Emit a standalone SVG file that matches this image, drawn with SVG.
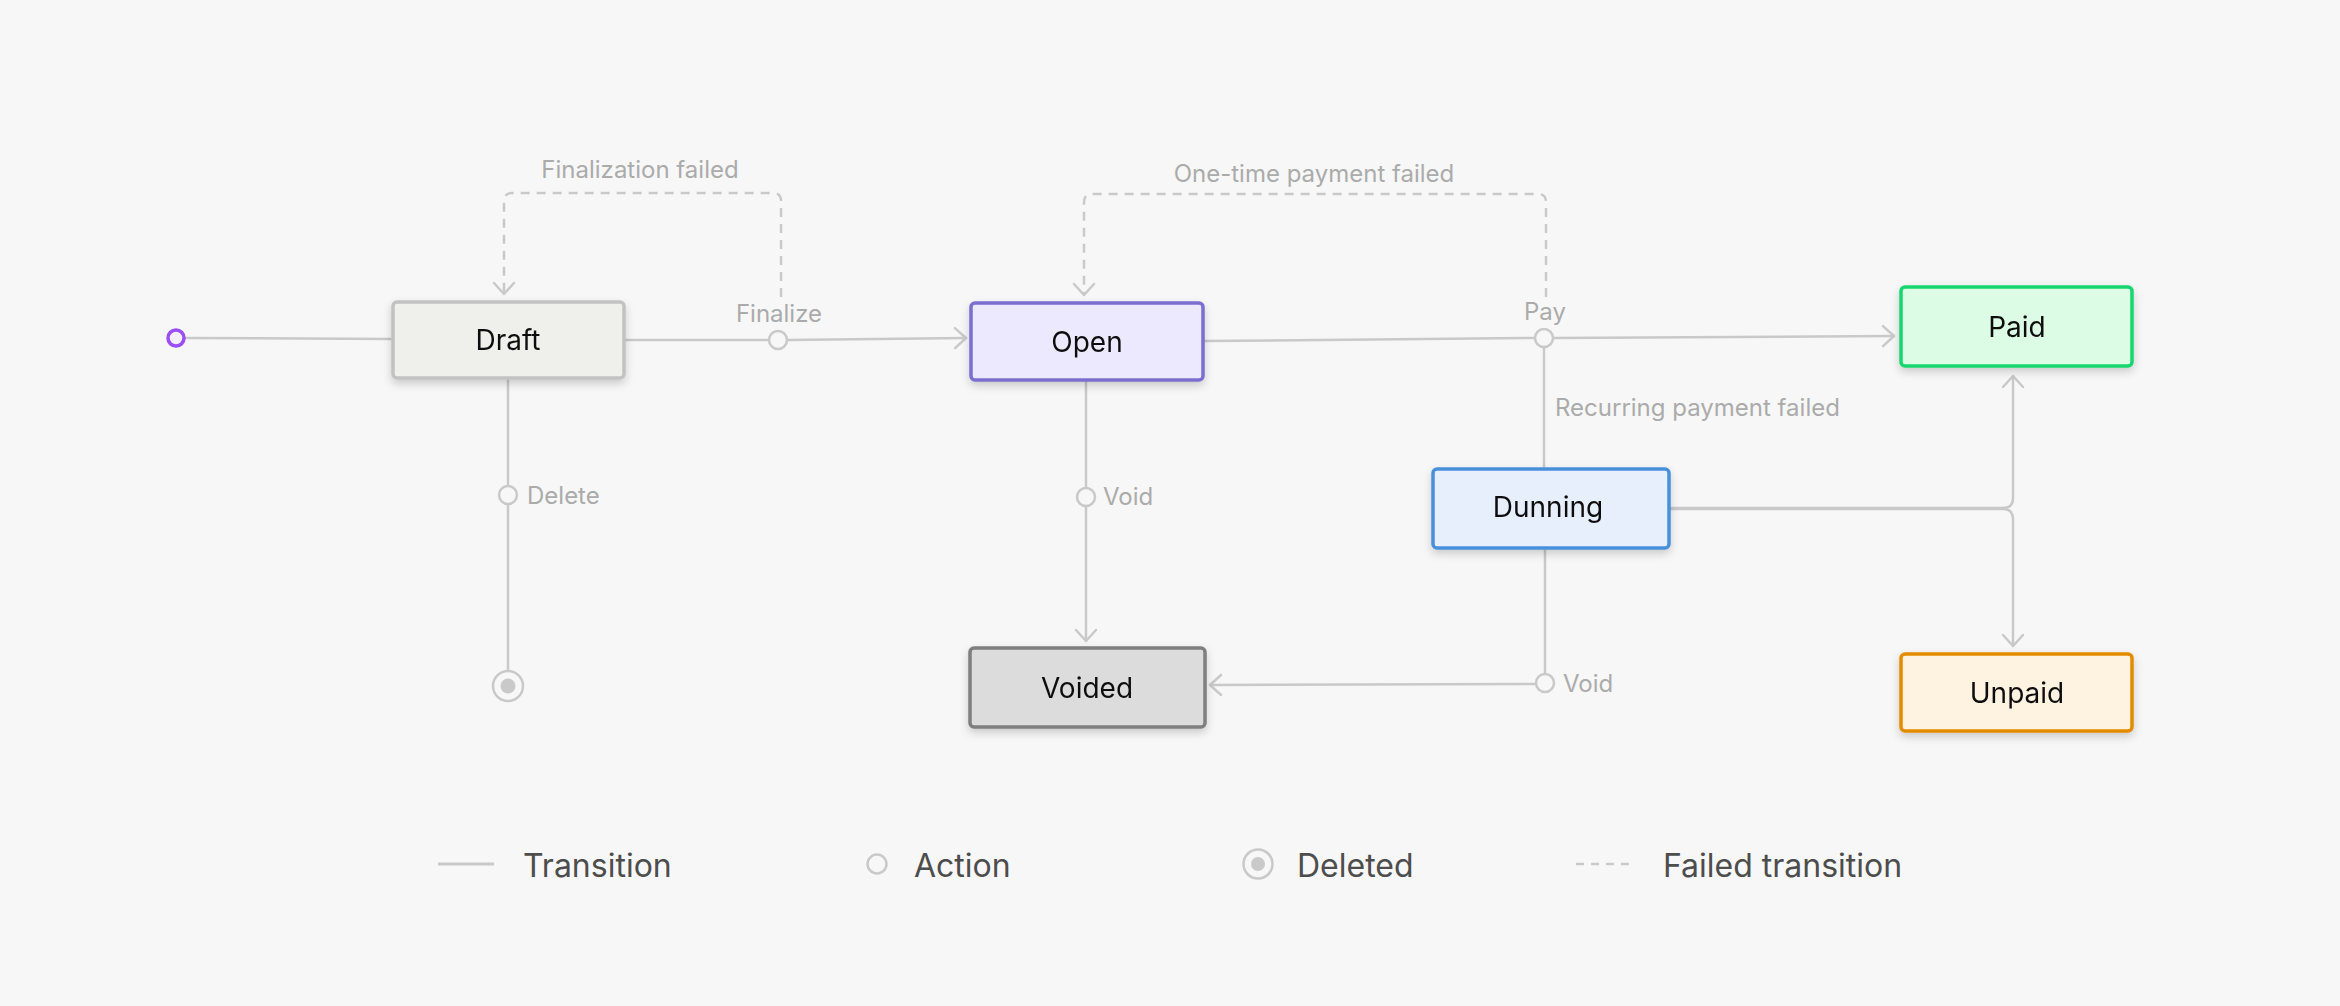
<svg xmlns="http://www.w3.org/2000/svg" width="2340" height="1006" viewBox="0 0 2340 1006">
<style>
.conn{fill:none;stroke:#c9c9c9;stroke-width:2.5;stroke-linecap:round;stroke-linejoin:round}
.dash{stroke-dasharray:9 7;stroke-linecap:butt}
.act{fill:#f7f7f7;stroke:#c9c9c9;stroke-width:2.5}
.lbl{font-family:Inter,"Liberation Sans",sans-serif;font-size:24px;fill:#ababab}
.ntext{font-family:Inter,"Liberation Sans",sans-serif;font-size:28px;fill:#111;text-anchor:middle}
.leg{font-family:Inter,"Liberation Sans",sans-serif;font-size:32px;fill:#4d4d4d}
.box{stroke-width:3.5}
</style>
<defs>
<marker id="arr" markerUnits="userSpaceOnUse" markerWidth="30" markerHeight="30" refX="0" refY="0" viewBox="-15 -15 30 30" orient="auto">
<path d="M-11,-10 L0,0 L-11,10" fill="none" stroke="#c9c9c9" stroke-width="2.5" stroke-linecap="round" stroke-linejoin="round"/>
</marker>
<filter id="sh" x="-20%" y="-30%" width="140%" height="170%">
<feDropShadow dx="0" dy="4" stdDeviation="4" flood-color="#000" flood-opacity="0.18"/>
</filter>
</defs>
<rect x="0" y="0" width="2340" height="1006" fill="#f7f7f7"/>

<g id="connectors">
<path class="conn" d="M185,338 L393,339"/>
<path class="conn" d="M624,340 L769,340"/>
<path class="conn" d="M787,340 L966,338" marker-end="url(#arr)"/>
<path class="conn dash" d="M781,297 L781,201 Q781,193 773,193 L512,193 Q504,193 504,201 L504,294" marker-end="url(#arr)"/>
<path class="conn" d="M1203,341 L1535,338"/>
<path class="conn" d="M1553,338 L1894,336" marker-end="url(#arr)"/>
<path class="conn dash" d="M1546,297 L1546,202 Q1546,194 1538,194 L1092,194 Q1084,194 1084,202 L1084,295" marker-end="url(#arr)"/>
<path class="conn" d="M1544,347 L1544,468"/>
<path class="conn" d="M1086,381 L1086,488"/>
<path class="conn" d="M1086,506 L1086,641" marker-end="url(#arr)"/>
<path class="conn" d="M508,378 L508,486"/>
<path class="conn" d="M508,504 L508,671"/>
<path class="conn" d="M1545,549 L1545,674"/>
<path class="conn" d="M1536,684 L1210,685" marker-end="url(#arr)"/>
<path class="conn" d="M1669,508 L2003,508 Q2013,508 2013,498 L2013,376" marker-end="url(#arr)"/>
<path class="conn" d="M1669,509 L2003,509 Q2013,509 2013,519 L2013,646" marker-end="url(#arr)"/>
</g>

<g id="start"><circle cx="176" cy="338" r="8" fill="#f3effe" stroke="#9b4dff" stroke-width="3.5"/></g>

<g id="action-finalize"><circle class="act" cx="778" cy="340" r="9"/><text class="lbl" x="779" y="322" text-anchor="middle">Finalize</text></g>
<g id="action-pay"><circle class="act" cx="1544" cy="338" r="9"/><text class="lbl" x="1545" y="320" text-anchor="middle">Pay</text></g>
<g id="action-delete"><circle class="act" cx="508" cy="495" r="9"/><text class="lbl" x="527" y="504">Delete</text></g>
<g id="action-void-open"><circle class="act" cx="1086" cy="497" r="9"/><text class="lbl" x="1103" y="505">Void</text></g>
<g id="action-void-dunning"><circle class="act" cx="1545" cy="683" r="9"/><text class="lbl" x="1563" y="692">Void</text></g>

<g id="end-deleted"><circle cx="508" cy="686" r="15" fill="#f7f7f7" stroke="#c9c9c9" stroke-width="2.5"/><circle cx="508" cy="686" r="7.5" fill="#c9c9c9"/></g>

<g id="label-finalization-failed"><text class="lbl" x="640" y="178" text-anchor="middle">Finalization failed</text></g>
<g id="label-onetime-failed"><text class="lbl" x="1314" y="182" text-anchor="middle">One-time payment failed</text></g>
<g id="label-recurring-failed"><text class="lbl" x="1555" y="416">Recurring payment failed</text></g>

<g id="node-draft" filter="url(#sh)"><rect class="box" x="393" y="302" width="231" height="76" rx="4" fill="#efefeb" stroke="#c2c2c2"/><text class="ntext" x="508" y="350">Draft</text></g>
<g id="node-open" filter="url(#sh)"><rect class="box" x="971" y="303" width="232" height="77" rx="4" fill="#ece9fe" stroke="#7b6ecf"/><text class="ntext" x="1087" y="352">Open</text></g>
<g id="node-dunning" filter="url(#sh)"><rect class="box" x="1433" y="469" width="236" height="79" rx="4" fill="#e8effc" stroke="#4a90db"/><text class="ntext" x="1548" y="517">Dunning</text></g>
<g id="node-paid" filter="url(#sh)"><rect class="box" x="1901" y="287" width="231" height="79" rx="4" fill="#dcfce6" stroke="#17d66f"/><text class="ntext" x="2017" y="337">Paid</text></g>
<g id="node-unpaid" filter="url(#sh)"><rect class="box" x="1901" y="654" width="231" height="77" rx="4" fill="#fef2e0" stroke="#e48c00"/><text class="ntext" x="2017" y="703">Unpaid</text></g>
<g id="node-voided" filter="url(#sh)"><rect class="box" x="970" y="648" width="235" height="79" rx="4" fill="#dcdcdc" stroke="#7f7f7f"/><text class="ntext" x="1087" y="698">Voided</text></g>

<g id="legend">
<line x1="438" y1="864" x2="494" y2="864" stroke="#c9c9c9" stroke-width="3"/>
<text class="leg" x="523" y="877">Transition</text>
<circle cx="877" cy="864" r="9.5" fill="#f7f7f7" stroke="#c9c9c9" stroke-width="2.5"/>
<text class="leg" x="914" y="877">Action</text>
<circle cx="1258" cy="864" r="14.5" fill="#f7f7f7" stroke="#c9c9c9" stroke-width="2.5"/>
<circle cx="1258" cy="864" r="7" fill="#c9c9c9"/>
<text class="leg" x="1297" y="877">Deleted</text>
<line x1="1576" y1="864" x2="1634" y2="864" stroke="#c9c9c9" stroke-width="2.5" stroke-dasharray="8 7"/>
<text class="leg" x="1663" y="877">Failed transition</text>
</g>
</svg>
